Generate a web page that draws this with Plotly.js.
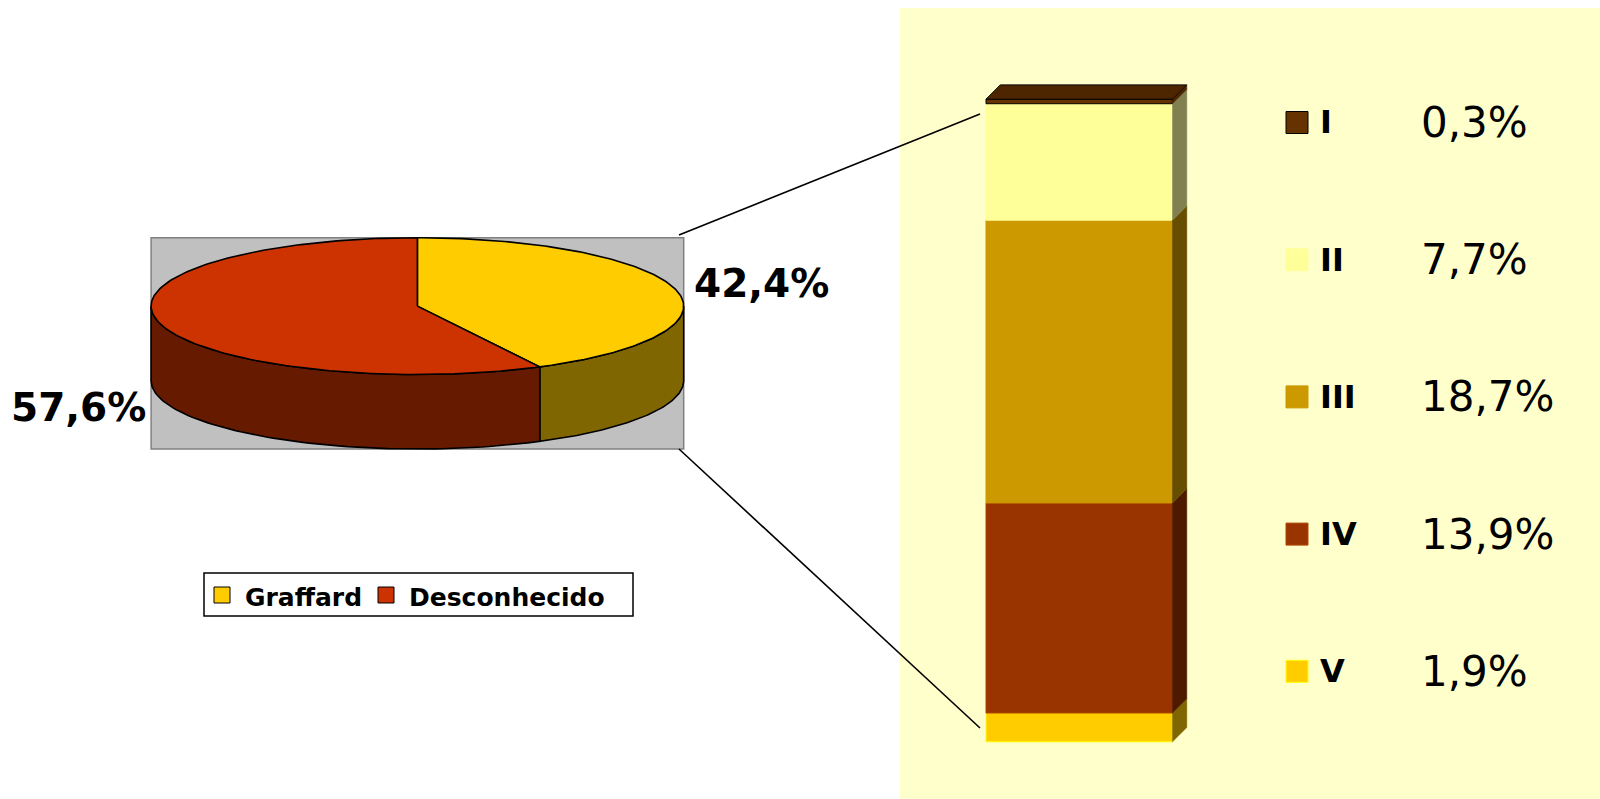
<!DOCTYPE html>
<html>
<head>
<meta charset="utf-8">
<script src="https://cdn.plot.ly/plotly-3.0.1.min.js"></script>
<style>html,body{margin:0;padding:0;background:#fff;}#chart{width:1600px;height:799px;}</style>
</head>
<body>
<div id="chart"></div>
<script>
// ---------------- DATA ----------------
const pieLabels = ['Graffard', 'Desconhecido'];
const pieValues = [42.4, 57.6];
const pieTopColors = ['#FFCC00', '#CC3300'];
const pieSideColors = ['#806600', '#661A00'];

const classLabels = ['I', 'II', 'III', 'IV', 'V'];
const classValues = [0.3, 7.7, 18.7, 13.9, 1.9];
const classColors = ['#663300', '#FFFF99', '#CC9900', '#993300', '#FFCC00'];
const classSideColors = ['#4D2600', '#808050', '#664D00', '#4D1A00', '#806600'];
const classEdgeColors = ['#000000', '#FFFF99', '#CC9900', '#B34700', '#FFFF00'];

// ---------------- helpers ----------------
const W = 1600, H = 799;
const fx = p => p / W;
const fy = p => 1 - p / H;
const fmt = v => v.toFixed(1).replace('.', ',') + '%';

// pie geometry (units: horizontal radius = 1)
const RY = 0.2569, DEPTH = 0.2798;
const traces = [];
const shapes = [];
const annotations = [];

function ell(theta, drop) { // theta clockwise from top
  return [Math.sin(theta), RY * Math.cos(theta) - (drop || 0)];
}
const total = pieValues.reduce((a, b) => a + b, 0);
let acc = 0;
const slices = pieValues.map(v => { const a0 = acc / total * 2 * Math.PI; acc += v; return [a0, acc / total * 2 * Math.PI]; });

// side walls (front half: theta in [pi/2, 3pi/2])
slices.forEach((s, i) => {
  const a0 = Math.max(s[0], Math.PI / 2), a1 = Math.min(s[1], 3 * Math.PI / 2);
  if (a1 <= a0) return;
  const xs = [], ys = [];
  const n = 80;
  for (let k = 0; k <= n; k++) { const t = a0 + (a1 - a0) * k / n; const p = ell(t); xs.push(p[0]); ys.push(p[1]); }
  for (let k = n; k >= 0; k--) { const t = a0 + (a1 - a0) * k / n; const p = ell(t, DEPTH); xs.push(p[0]); ys.push(p[1]); }
  xs.push(xs[0]); ys.push(ys[0]);
  traces.push({type: 'scatter', mode: 'lines', x: xs, y: ys, fill: 'toself', fillcolor: pieSideColors[i],
    line: {color: '#000', width: 1.6}, hoverinfo: 'skip', showlegend: false, xaxis: 'x', yaxis: 'y'});
});
// top faces
slices.forEach((s, i) => {
  const xs = [0], ys = [0];
  const n = 160;
  for (let k = 0; k <= n; k++) { const t = s[0] + (s[1] - s[0]) * k / n; const p = ell(t); xs.push(p[0]); ys.push(p[1]); }
  xs.push(0); ys.push(0);
  traces.push({type: 'scatter', mode: 'lines', x: xs, y: ys, fill: 'toself', fillcolor: pieTopColors[i],
    line: {color: '#000', width: 1.6}, hoverinfo: 'skip', showlegend: false, xaxis: 'x', yaxis: 'y', name: pieLabels[i]});
});
// gray plot area of the pie
shapes.push({type: 'rect', xref: 'x', yref: 'y', x0: -1, x1: 1, y0: -(RY + DEPTH), y1: RY,
  fillcolor: '#C0C0C0', line: {color: '#808080', width: 1.5}, layer: 'below'});

// pie labels
annotations.push({xref: 'paper', yref: 'paper', x: fx(692), y: fy(283), xanchor: 'left', yanchor: 'middle',
  text: '<b>' + fmt(pieValues[0]) + '</b>', showarrow: false, font: {family: 'DejaVu Sans', size: 39, color: '#000'}});
annotations.push({xref: 'paper', yref: 'paper', x: fx(148), y: fy(408), xanchor: 'right', yanchor: 'middle',
  text: '<b>' + fmt(pieValues[1]) + '</b>', showarrow: false, font: {family: 'DejaVu Sans', size: 39, color: '#000'}});

// left legend
shapes.push({type: 'rect', xref: 'paper', yref: 'paper', x0: fx(204), x1: fx(633), y0: fy(616), y1: fy(573),
  fillcolor: '#FFFFFF', line: {color: '#000', width: 1.5}});
const legX = [214, 378], legTX = [243, 407];
pieLabels.forEach((lab, i) => {
  shapes.push({type: 'rect', xref: 'paper', yref: 'paper', x0: fx(legX[i]), x1: fx(legX[i] + 16), y0: fy(603), y1: fy(587),
    fillcolor: pieTopColors[i], line: {color: '#000', width: 1}});
  annotations.push({xref: 'paper', yref: 'paper', x: fx(legTX[i]), y: fy(597), xanchor: 'left', yanchor: 'middle',
    text: '<b>' + lab + '</b>', showarrow: false, font: {family: 'DejaVu Sans', size: 25, color: '#000'}});
});

// right panel background
shapes.push({type: 'rect', xref: 'paper', yref: 'paper', x0: fx(900), x1: 1, y0: 0, y1: fy(8),
  fillcolor: '#FFFFCC', line: {width: 0}, layer: 'below'});

// connector lines
shapes.push({type: 'line', xref: 'paper', yref: 'paper', x0: fx(679), y0: fy(235), x1: fx(980), y1: fy(114), line: {color: '#000', width: 1.6}});
shapes.push({type: 'line', xref: 'paper', yref: 'paper', x0: fx(679), y0: fy(449), x1: fx(980), y1: fy(728), line: {color: '#000', width: 1.6}});

// ---------------- stacked 3D bar ----------------
const DX = 0.0767, DY = 0.946;
// stack from bottom (last class) to top (first class)
let base = 0;
const bases = new Array(classValues.length);
for (let i = classValues.length - 1; i >= 0; i--) { bases[i] = base; base += classValues[i]; }
const topVal = base;
for (let i = classValues.length - 1; i >= 0; i--) {
  traces.push({type: 'bar', x: [0], y: [classValues[i]], base: [bases[i]], width: 1, name: classLabels[i],
    marker: {color: classColors[i], line: {color: classEdgeColors[i], width: 1}}, xaxis: 'x2', yaxis: 'y2',
    hoverinfo: 'skip', showlegend: false});
}
for (let i = classValues.length - 1; i >= 0; i--) {
  const y0 = bases[i], y1 = bases[i] + classValues[i];
  traces.push({type: 'scatter', mode: 'lines', x: [0.5, 0.5 + DX, 0.5 + DX, 0.5, 0.5], y: [y0, y0 + DY, y1 + DY, y1, y0],
    fill: 'toself', fillcolor: classSideColors[i], line: {color: classSideColors[i], width: 0.5},
    xaxis: 'x2', yaxis: 'y2', hoverinfo: 'skip', showlegend: false});
}
traces.push({type: 'scatter', mode: 'lines', x: [-0.5, -0.5 + DX, 0.5 + DX, 0.5, -0.5], y: [topVal, topVal + DY, topVal + DY, topVal, topVal],
  fill: 'toself', fillcolor: classSideColors[0], line: {color: '#000', width: 1},
  xaxis: 'x2', yaxis: 'y2', hoverinfo: 'skip', showlegend: false});

// right legend
const rowY0 = 122.5, rowStep = 137.2;
classLabels.forEach((lab, i) => {
  const cy = rowY0 + i * rowStep;
  shapes.push({type: 'rect', xref: 'paper', yref: 'paper', x0: fx(1286), x1: fx(1308), y0: fy(cy + 11), y1: fy(cy - 11),
    fillcolor: classColors[i], line: {color: i === 0 ? '#000' : classEdgeColors[i], width: 1}});
  annotations.push({xref: 'paper', yref: 'paper', x: fx(1318), y: fy(cy), xanchor: 'left', yanchor: 'middle',
    text: '<b>' + lab + '</b>', showarrow: false, font: {family: 'DejaVu Sans', size: 32, color: '#000'}});
  annotations.push({xref: 'paper', yref: 'paper', x: fx(1419), y: fy(cy), xanchor: 'left', yanchor: 'middle',
    text: fmt(classValues[i]), showarrow: false, font: {family: 'DejaVu Sans', size: 42, color: '#000'}});
});

const hidden = {visible: false, showgrid: false, zeroline: false, fixedrange: true};
const layout = {
  width: W, height: H, autosize: false,
  margin: {l: 0, r: 0, t: 0, b: 0, pad: 0},
  paper_bgcolor: '#FFFFFF', plot_bgcolor: 'rgba(0,0,0,0)',
  showlegend: false, barmode: 'overlay',
  xaxis: Object.assign({domain: [0, 0.55], range: [-1.5674, 1.7372]}, hidden),
  yaxis: Object.assign({domain: [0, 1], range: [-1.8509, 1.1495]}, hidden),
  xaxis2: Object.assign({domain: [0.6, 0.75], range: [-0.6394, 0.6475], anchor: 'y2'}, hidden),
  yaxis2: Object.assign({domain: [0, 1], range: [-3.783, 49.06], anchor: 'x2'}, hidden),
  shapes: shapes, annotations: annotations
};
Plotly.newPlot('chart', traces, layout, {staticPlot: true, displayModeBar: false});
</script>
</body>
</html>
